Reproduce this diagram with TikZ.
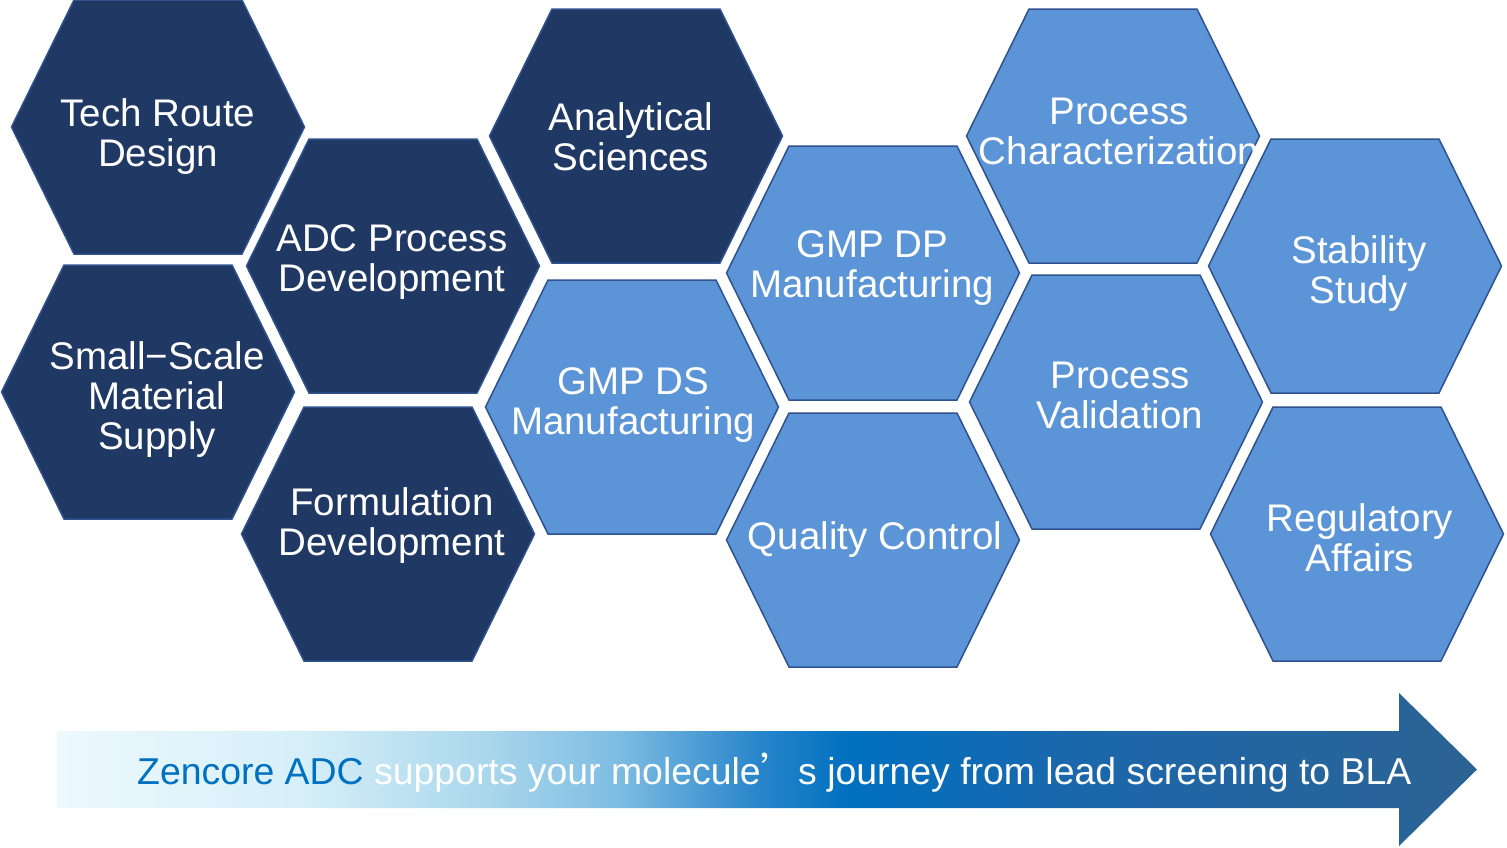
\documentclass[tikz,border=0pt]{standalone}
\usepackage{fontspec}
\setmainfont{Liberation Sans}
\newfontfamily\cjk{Noto Sans CJK SC}

\definecolor{hexdark}{HTML}{203864}
\definecolor{hexlight}{HTML}{5B94D7}
\definecolor{hexedge}{HTML}{2F528F}
\definecolor{zencore}{HTML}{0070C0}
\definecolor{fadeA}{HTML}{EDF9FD}
\definecolor{fadeB}{HTML}{D6EFF8}
\definecolor{fadeC}{HTML}{AAD7EC}
\definecolor{fadeD}{HTML}{7DBCE2}
\definecolor{fadeE}{HTML}{2A86CB}
\definecolor{fadeF}{HTML}{0070C0}
\definecolor{fadeG}{HTML}{1B67AB}
\definecolor{fadeH}{HTML}{2C6394}

\pgfdeclarehorizontalshading{journey}{100bp}{color(0bp)=(fadeA); color(25bp)=(fadeA);
  color(33.6bp)=(fadeB); color(40.1bp)=(fadeC); color(44.8bp)=(fadeD);
  color(49.6bp)=(fadeE); color(52.9bp)=(fadeF); color(61bp)=(fadeG);
  color(75bp)=(fadeH); color(100bp)=(fadeH)}

\begin{document}
\begin{tikzpicture}[x=1pt, y=-1pt,
    cell/.style={draw=hexedge, line width=1.5pt},
    celltext/.style={text=white, align=center, inner sep=0pt, font=\fontsize{38.5}{40}\selectfont}]
    \useasboundingbox (0,0) rectangle (1507,847);

    % Hexagons: centre, colour, label position, name, label
    \foreach \cx/\cy/\tone/\tx/\ty/\name/\txt in {
        158/127/hexdark/158/137/tech/{Tech Route\\Design},
        393/266/hexdark/392/262/adc/{ADC Process\\Development},
        148/392/hexdark/157/400/smallscale/{Small−Scale\\Material\\Supply},
        388/534/hexdark/392/526/formulation/{Formulation\\Development},
        636/136/hexdark/631/137/analytical/{Analytical\\Sciences},
        632/407/hexlight/633/405/gmpds/{GMP DS\\Manufacturing},
        873/273/hexlight/872/268/gmpdp/{GMP DP\\Manufacturing},
        873/540/hexlight/875/540/qc/{Quality Control},
        1113/136/hexlight/1119/131/charac/{Process\\Characterization},
        1116/402/hexlight/1120/395/validation/{Process\\Validation},
        1355/266/hexlight/1359/274/stability/{Stability\\Study},
        1357/534/hexlight/1360/538/regulatory/{Regulatory\\Affairs}}{
        \draw[cell, fill=\tone, shift={(\cx,\cy)}] (-146.5,0) -- (-84,-127) -- (84,-127)
            -- (146.5,0) -- (84,127) -- (-84,127) -- cycle;
        \node[celltext] (\name) at (\tx,\ty) {\txt};
    }

    % Arrow
    \shade[shading=journey] (57,731) -- (1399,731) -- (1399,693) -- (1477,769.5)
        -- (1399,846) -- (1399,808) -- (57,808) -- cycle;
    \node[anchor=base west, inner sep=0pt, font=\fontsize{37.4}{40}\selectfont] (motto) at (137,784)
        {\textcolor{zencore}{Zencore ADC} \textcolor{white}{supports your molecule{\cjk ’}s journey from lead screening to BLA}};
\end{tikzpicture}
\end{document}
